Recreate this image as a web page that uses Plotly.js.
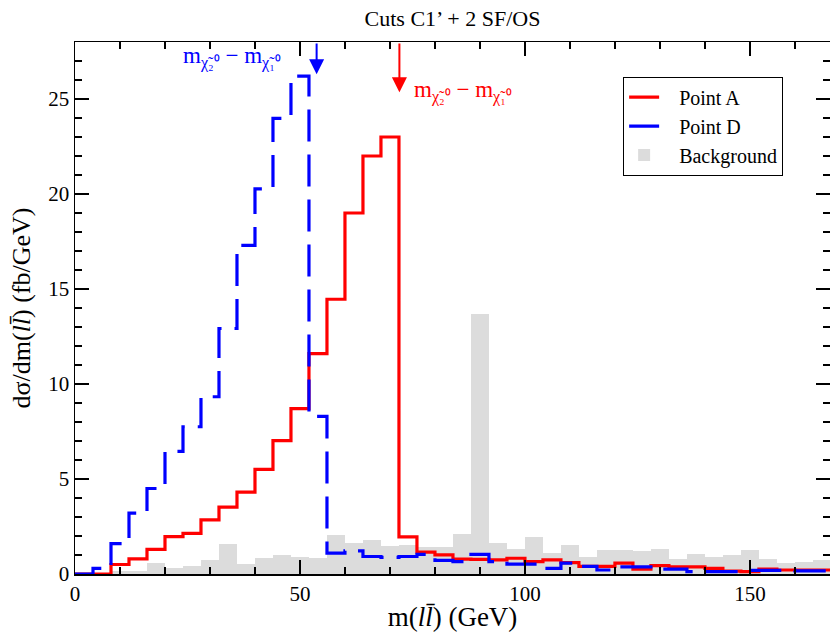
<!DOCTYPE html>
<html>
<head>
<meta charset="utf-8">
<script src="https://cdn.plot.ly/plotly-3.0.1.min.js"></script>
<style>html,body{margin:0;padding:0;background:#fff;}#chart{width:830px;height:632px;}</style>
</head>
<body>
<div id="chart"></div>
<script>
// Bin left edges (GeV), bin width 4 GeV
const binLeft = [0,4,8,12,16,20,24,28,32,36,40,44,48,52,56,60,64,68,72,76,80,84,88,92,96,100,104,108,112,116,120,124,128,132,136,140,144,148,152,156,160,164];
const binWidth = 4;
// Point A (red)
const pointA = [0,0,0.5,0.8,1.3,1.97,2.14,2.85,3.52,4.31,5.51,7.02,8.7,11.6,14.46,19.0,22.0,23.0,1.95,1.15,1.01,0.78,0.77,0.74,0.83,0.65,0.74,0.6,0.4,0.4,0.57,0.25,0.44,0.37,0.37,0.3,0.15,0.13,0.26,0.21,0.21,0.21];
// Point D (blue, dashed)
const pointD = [0,0.3,1.6,3.2,4.5,6.45,7.75,9.33,12.92,17.3,20.27,23.98,26.2,8.3,1.1,1.22,0.92,0.88,0.92,1.03,0.72,0.65,1.03,0.65,0.52,0.52,0.3,0.57,0.4,0.21,0.37,0.37,0.26,0.26,0.12,0.12,0.12,0.19,0.19,0.19,0.16,0.16];
// Background (grey bars)
const background = [0,0,0.16,0.16,0.56,0.3,0.44,0.74,1.56,0.54,0.84,1.0,0.91,0.86,2.06,1.61,1.8,1.49,1.54,1.44,1.44,2.08,13.7,1.65,1.31,1.96,1.12,1.52,0.91,1.26,1.26,1.21,1.29,0.79,1.05,0.87,1.0,1.26,0.77,0.6,0.65,0.74];
// Legend names
const names = ['Point A', 'Point D', 'Background'];
// Kinematic endpoints marked by arrows (GeV)
const endpointD = 53.7;
const endpointA = 72.1;

const FONT = 'Liberation Serif, Times New Roman, serif';
const PAD = '\u00A0\u00A0\u00A0';

const stepX = binLeft.concat([binLeft[binLeft.length - 1] + binWidth]);
function stepY(v) { return v.concat([v[v.length - 1]]); }

const traces = [
  {
    type: 'bar', name: PAD + names[2], x: binLeft, y: background,
    offset: 0, width: binWidth,
    marker: {color: '#dcdcdc', line: {width: 0}},
    legendrank: 3
  },
  {
    type: 'scatter', mode: 'lines', name: PAD + names[0], x: stepX, y: stepY(pointA),
    line: {shape: 'hv', color: '#ff0000', width: 3.2},
    legendrank: 1
  },
  {
    type: 'scatter', mode: 'lines', name: PAD + names[1], x: stepX, y: stepY(pointD),
    line: {shape: 'hv', color: '#0000ff', width: 3.2, dash: '32px,13px'},
    legendrank: 2
  }
];

const label = 'm<sub>χ̃₂⁰</sub> − m<sub>χ̃₁⁰</sub>';

const layout = {
  width: 830, height: 632,
  margin: {l: 75, r: 0, t: 42, b: 58},
  paper_bgcolor: '#ffffff', plot_bgcolor: '#ffffff',
  font: {family: FONT, color: '#000000'},
  bargap: 0,
  showlegend: true,
  title: {
    text: 'Cuts C1’ + 2 SF/OS',
    font: {family: FONT, size: 22, color: '#000'},
    x: 0.5, xref: 'paper', xanchor: 'center',
    y: 1 - 18 / 632, yref: 'container', yanchor: 'middle'
  },
  xaxis: {
    range: [0, 167.8],
    tickvals: [0, 50, 100, 150],
    ticks: 'inside', ticklen: 14, tickwidth: 1.2, tickcolor: '#000',
    minor: {dtick: 10, ticks: 'inside', ticklen: 7, tickwidth: 1.2, tickcolor: '#000', showgrid: false},
    mirror: 'ticks', showline: true, linecolor: '#000', linewidth: 1.5,
    showgrid: false, zeroline: false,
    tickfont: {family: FONT, size: 21, color: '#000'},
    title: {text: 'm(<i>l</i><i>l̄</i>) (GeV)', font: {family: FONT, size: 27, color: '#000'}, standoff: 10}
  },
  yaxis: {
    range: [0, 28],
    tickvals: [0, 5, 10, 15, 20, 25],
    ticks: 'inside', ticklen: 14, tickwidth: 1.2, tickcolor: '#000',
    minor: {dtick: 1, ticks: 'inside', ticklen: 7, tickwidth: 1.2, tickcolor: '#000', showgrid: false},
    mirror: 'ticks', showline: true, linecolor: '#000', linewidth: 1.5,
    showgrid: false, zeroline: false,
    tickfont: {family: FONT, size: 21, color: '#000'},
    title: {text: 'dσ/dm(<i>l</i><i>l̄</i>) (fb/GeV)', font: {family: FONT, size: 26, color: '#000'}, standoff: 10}
  },
  legend: {
    x: 0.726, y: 0.935, xanchor: 'left', yanchor: 'top',
    bgcolor: '#ffffff', bordercolor: '#000', borderwidth: 1,
    font: {family: FONT, size: 20, color: '#000'},
    tracegroupgap: 0
  },
  annotations: [
    {
      x: endpointD, y: 26.3, xref: 'x', yref: 'y',
      ax: endpointD, ay: 28, axref: 'x', ayref: 'y',
      text: '', showarrow: true, arrowhead: 2, arrowsize: 1.5, arrowwidth: 2, arrowcolor: '#0000ff'
    },
    {
      x: endpointA, y: 25.35, xref: 'x', yref: 'y',
      ax: endpointA, ay: 28, axref: 'x', ayref: 'y',
      text: '', showarrow: true, arrowhead: 2, arrowsize: 1.5, arrowwidth: 2, arrowcolor: '#ff0000'
    },
    {
      x: 23.6, y: 27.2, xref: 'x', yref: 'y', xanchor: 'left', yanchor: 'middle',
      text: label, showarrow: false,
      font: {family: FONT, size: 23, color: '#0000ff'}
    },
    {
      x: 74.8, y: 25.4, xref: 'x', yref: 'y', xanchor: 'left', yanchor: 'middle',
      text: label, showarrow: false,
      font: {family: FONT, size: 23, color: '#ff0000'}
    }
  ]
};

Plotly.newPlot('chart', traces, layout, {displayModeBar: false, staticPlot: true});
</script>
</body>
</html>
